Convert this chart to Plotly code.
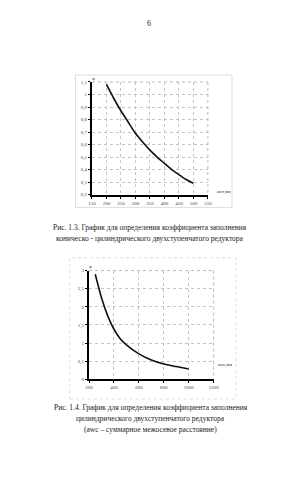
import plotly.graph_objects as go

# Chart 1 (Рис. 1.3)
x1 = [200, 225, 250, 275, 300, 325, 350, 375, 400, 425, 450, 475, 500]
y1 = [1.08, 0.97, 0.87, 0.78, 0.69, 0.62, 0.555, 0.50, 0.45, 0.40, 0.36, 0.32, 0.29]
x1_ticks = [150, 200, 250, 300, 350, 400, 450, 500, 550]
y1_ticks = [0.2, 0.3, 0.4, 0.5, 0.6, 0.7, 0.8, 0.9, 1.0, 1.1]
y1_labels = ["0,2", "0,3", "0,4", "0,5", "0,6", "0,7", "0,8", "0,9", "1", "1,1"]

# Chart 2 (Рис. 1.4)
x2 = [250, 300, 350, 400, 450, 500, 600, 700, 800, 900, 1000]
y2 = [2.9, 2.25, 1.75, 1.38, 1.12, 0.95, 0.70, 0.53, 0.42, 0.35, 0.28]
x2_ticks = [200, 400, 600, 800, 1000, 1200]
y2_ticks = [0, 0.5, 1, 1.5, 2, 2.5, 3]
y2_labels = ["0", "0,5", "1", "1,5", "2", "2,5", "3"]

W, H = 296, 480
def px(x): return x / W
def py(y): return 1 - y / H

serif = "Liberation Serif"
fig = go.Figure()
fig.add_trace(go.Scatter(x=x1, y=y1, mode="lines", line=dict(color="#111", width=1.6, shape="spline", smoothing=0.6),
                         xaxis="x", yaxis="y", showlegend=False))
fig.add_trace(go.Scatter(x=x2, y=y2, mode="lines", line=dict(color="#111", width=1.6, shape="spline", smoothing=0.6),
                         xaxis="x2", yaxis="y2", showlegend=False))

ax_common = dict(showgrid=True, gridcolor="#c4c4c4", griddash="dot", gridwidth=0.8,
                 showline=True, linecolor="#000", linewidth=2, ticks="outside", ticklen=2,
                 tickcolor="#000", tickfont=dict(family=serif, size=5, color="#444"), zeroline=False,
                 mirror=False)

fig.update_layout(
    width=W, height=H, margin=dict(l=0, r=0, t=0, b=0),
    paper_bgcolor="white", plot_bgcolor="white",
    xaxis=dict(ax_common, domain=[px(91), px(211)], range=[150, 550], tickvals=x1_ticks,
               ticktext=[str(v) for v in x1_ticks], anchor="y"),
    yaxis=dict(ax_common, domain=[py(195), py(81)], range=[0.2, 1.1], tickvals=y1_ticks,
               ticktext=y1_labels, anchor="x"),
    xaxis2=dict(ax_common, domain=[px(88), px(217)], range=[200, 1200], tickvals=x2_ticks,
                ticktext=[str(v) for v in x2_ticks], anchor="y2"),
    yaxis2=dict(ax_common, domain=[py(382), py(272)], range=[0, 3], tickvals=y2_ticks,
                ticktext=y2_labels, anchor="x2"),
)

# top / right dotted frame of plot areas
for (x0, x1p, y0, y1p) in [(91, 211, 81, 195), (88, 217, 272, 382)]:
    fig.add_shape(type="line", xref="paper", yref="paper", x0=px(x0), x1=px(x1p), y0=py(y0), y1=py(y0),
                  line=dict(color="#aaa", width=0.8, dash="dot"))
    fig.add_shape(type="line", xref="paper", yref="paper", x0=px(x1p), x1=px(x1p), y0=py(y0), y1=py(y1p),
                  line=dict(color="#aaa", width=0.8, dash="dot"))

# outer chart frames (light)
fig.add_shape(type="rect", xref="paper", yref="paper", x0=px(74), x1=px(236), y0=py(208), y1=py(74),
              line=dict(color="#d4d4d4", width=0.8))
fig.add_shape(type="rect", xref="paper", yref="paper", x0=px(68), x1=px(240), y0=py(402), y1=py(259),
              line=dict(color="#d4d4d4", width=0.8, dash="dot"))

def txt(x, y, s, size=7.5, anchor="center"):
    fig.add_annotation(x=px(x), y=py(y), xref="paper", yref="paper", text=s, showarrow=False,
                       font=dict(family=serif, size=size, color="#222"), xanchor=anchor, yanchor="middle")

txt(150, 22, "6", size=8)
txt(93, 77, "φ", size=5)
txt(90, 268, "φ", size=5)
txt(228, 192, "awт,мм", size=4.5)
txt(229, 368, "awс,мм", size=4.5)
txt(151, 228, "Рис. 1.3. График для определения коэффициента заполнения")
txt(151, 239, "коническо - цилиндрического двухступенчатого редуктора")
txt(152, 411, "Рис. 1.4. График для определения коэффициента заполнения")
txt(152, 422, "цилиндрического двухступенчатого редуктора")
txt(152, 433, "(awc – суммарное межосевое расстояние)")

fig.write_html("out.html")
